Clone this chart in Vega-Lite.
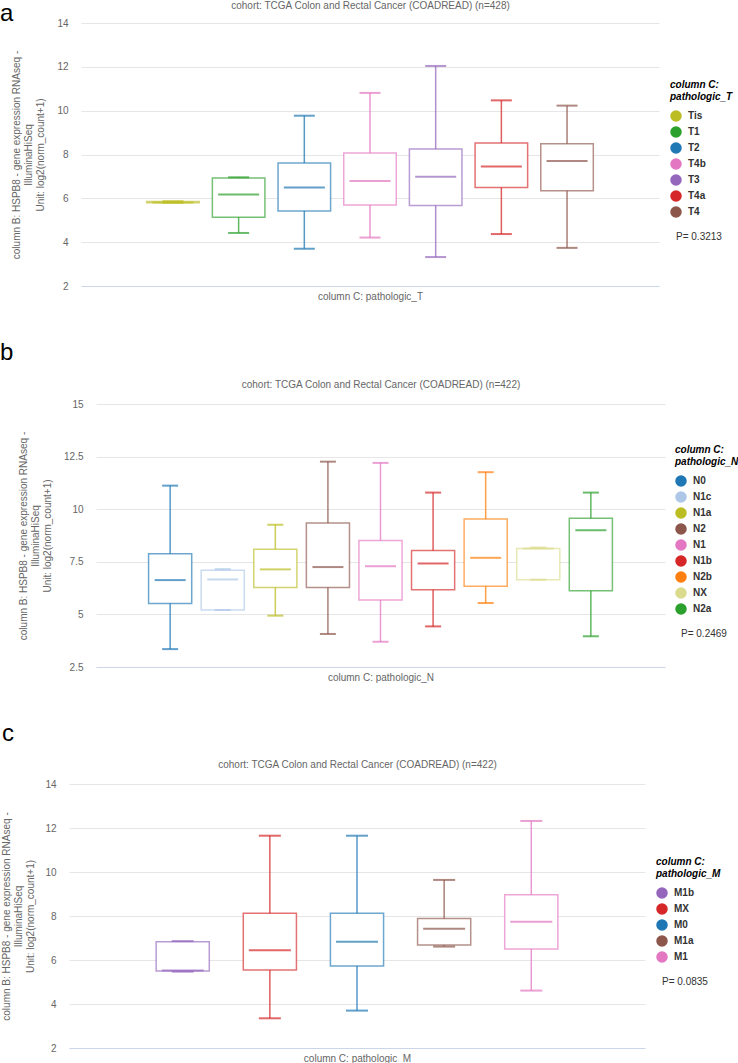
{
  "$schema": "https://vega.github.io/schema/vega-lite/v6.json",
  "padding": {"left": 0, "top": 0, "right": 0, "bottom": 0},
  "spacing": 40,
  "resolve": {
    "scale": {"color": "independent", "stroke": "independent", "shape": "independent", "x": "independent", "y": "independent"},
    "legend": {"color": "independent", "shape": "independent"}
  },
  "vconcat": [
    {
      "title": {"text": "a", "dx": 0, "offset": -26},
      "spacing": 0,
      "resolve": {"scale": {"color": "independent", "stroke": "independent", "shape": "independent"}, "legend": {"color": "independent", "shape": "independent"}},
      "hconcat": [
        {"width": 11, "height": 10, "data": {"values": []}, "mark": "point", "encoding": {}},
        {
          "width": 578,
          "height": 263,
          "data": {"values": [
            {"cat": "Tis", "min": 5.8, "q1": 5.8, "median": 5.81, "q3": 5.85, "max": 5.87},
            {"cat": "T1", "min": 4.42, "q1": 5.14, "median": 6.18, "q3": 6.93, "max": 6.96},
            {"cat": "T2", "min": 3.70, "q1": 5.42, "median": 6.49, "q3": 7.61, "max": 9.77},
            {"cat": "T4b", "min": 4.21, "q1": 5.70, "median": 6.79, "q3": 8.07, "max": 10.81},
            {"cat": "T3", "min": 3.32, "q1": 5.67, "median": 6.99, "q3": 8.25, "max": 12.04},
            {"cat": "T4a", "min": 4.37, "q1": 6.50, "median": 7.45, "q3": 8.53, "max": 10.47},
            {"cat": "T4", "min": 3.74, "q1": 6.35, "median": 7.70, "q3": 8.49, "max": 10.23}
          ]},
          "resolve": {"axis": {"x": "independent"}},
          "layer": [
            {
              "mark": {"type": "rule", "strokeWidth": 1.5, "strokeOpacity": 0.75},
              "encoding": {
                "x": {"field": "cat", "type": "nominal", "scale": {"domain": ["Tis", "T1", "T2", "T4b", "T3", "T4a", "T4"], "paddingInner": 0.2, "paddingOuter": 2.38},
                  "axis": {"orient": "bottom", "title": "column C: pathologic_T", "labels": false, "ticks": false, "domain": true, "domainColor": "#ccd6eb", "titlePadding": 5}},
                "y": {"field": "min", "type": "quantitative", "scale": {"domain": [2, 14], "nice": false, "zero": false},
                  "axis": {"values": [2, 4, 6, 8, 10, 12, 14], "title": ["column B: HSPB8 - gene expression RNAseq -", "IlluminaHiSeq", "Unit: log2(norm_count+1)"]}},
                "y2": {"field": "max"},
                "color": {"field": "cat", "type": "nominal", "scale": {"domain": ["Tis", "T1", "T2", "T4b", "T3", "T4a", "T4"], "range": ["#bcbd22", "#2ca02c", "#1f77b4", "#e377c2", "#9467bd", "#d62728", "#8c564b"]},
                  "legend": {"title": [" ", "column C:", "pathologic_T"]}}
              }
            },
            {
              "mark": {"type": "bar", "fill": "white", "strokeWidth": 1.5, "strokeOpacity": 0.65},
              "encoding": {
                "x": {"field": "cat", "type": "nominal", "scale": {"domain": ["Tis", "T1", "T2", "T4b", "T3", "T4a", "T4"], "paddingInner": 0.2, "paddingOuter": 2.38},
                  "axis": {"orient": "top", "title": "cohort: TCGA Colon and Rectal Cancer (COADREAD) (n=428)", "labels": false, "ticks": false, "domain": false, "titlePadding": 13}},
                "y": {"field": "q1", "type": "quantitative", "scale": {"domain": [2, 14], "nice": false, "zero": false}},
                "y2": {"field": "q3"},
                "stroke": {"field": "cat", "type": "nominal", "scale": {"domain": ["Tis", "T1", "T2", "T4b", "T3", "T4a", "T4"], "range": ["#bcbd22", "#2ca02c", "#1f77b4", "#e377c2", "#9467bd", "#d62728", "#8c564b"]}, "legend": null}
              }
            },
            {
              "mark": {"type": "tick", "thickness": 2, "size": 21},
              "encoding": {
                "x": {"field": "cat", "type": "nominal", "scale": {"domain": ["Tis", "T1", "T2", "T4b", "T3", "T4a", "T4"], "paddingInner": 0.2, "paddingOuter": 2.38}, "axis": null},
                "y": {"field": "min", "type": "quantitative", "scale": {"domain": [2, 14], "nice": false, "zero": false}},
                "color": {"field": "cat", "type": "nominal", "scale": {"domain": ["Tis", "T1", "T2", "T4b", "T3", "T4a", "T4"], "range": ["#bcbd22", "#2ca02c", "#1f77b4", "#e377c2", "#9467bd", "#d62728", "#8c564b"]},
                  "legend": {"title": [" ", "column C:", "pathologic_T"]}}
              }
            },
            {
              "mark": {"type": "tick", "thickness": 2, "size": 21},
              "encoding": {
                "x": {"field": "cat", "type": "nominal", "scale": {"domain": ["Tis", "T1", "T2", "T4b", "T3", "T4a", "T4"], "paddingInner": 0.2, "paddingOuter": 2.38}, "axis": null},
                "y": {"field": "max", "type": "quantitative", "scale": {"domain": [2, 14], "nice": false, "zero": false}},
                "color": {"field": "cat", "type": "nominal", "scale": {"domain": ["Tis", "T1", "T2", "T4b", "T3", "T4a", "T4"], "range": ["#bcbd22", "#2ca02c", "#1f77b4", "#e377c2", "#9467bd", "#d62728", "#8c564b"]},
                  "legend": {"title": [" ", "column C:", "pathologic_T"]}}
              }
            },
            {
              "mark": {"type": "tick", "thickness": 2, "size": 41},
              "encoding": {
                "x": {"field": "cat", "type": "nominal", "scale": {"domain": ["Tis", "T1", "T2", "T4b", "T3", "T4a", "T4"], "paddingInner": 0.2, "paddingOuter": 2.38}, "axis": null},
                "y": {"field": "median", "type": "quantitative", "scale": {"domain": [2, 14], "nice": false, "zero": false}},
                "color": {"field": "cat", "type": "nominal", "scale": {"domain": ["Tis", "T1", "T2", "T4b", "T3", "T4a", "T4"], "range": ["#bcbd22", "#2ca02c", "#1f77b4", "#e377c2", "#9467bd", "#d62728", "#8c564b"]},
                  "legend": {"title": [" ", "column C:", "pathologic_T"]}}
              }
            },
            {
              "data": {"values": [{"p": "P= 0.3213"}]},
              "mark": {"type": "point", "opacity": 0},
              "encoding": {
                "shape": {"field": "p", "type": "nominal", "legend": {"title": null, "symbolSize": 0, "symbolStrokeWidth": 0, "labelFontWeight": "normal", "labelOffset": -4}}
              }
            }
          ]
        }
      ]
    },
    {
      "title": {"text": "b", "dx": 0, "offset": 14},
      "spacing": 0,
      "resolve": {"scale": {"color": "independent", "stroke": "independent", "shape": "independent"}, "legend": {"color": "independent", "shape": "independent"}},
      "hconcat": [
        {"width": 18, "height": 10, "data": {"values": []}, "mark": "point", "encoding": {}},
        {
          "width": 569,
          "height": 263,
          "data": {"values": [
            {"cat": "N0", "min": 3.35, "q1": 5.52, "median": 6.63, "q3": 7.88, "max": 11.12},
            {"cat": "N1c", "min": 5.21, "q1": 5.21, "median": 6.66, "q3": 7.10, "max": 7.15},
            {"cat": "N1a", "min": 4.94, "q1": 6.28, "median": 7.14, "q3": 8.10, "max": 9.26},
            {"cat": "N2", "min": 4.07, "q1": 6.28, "median": 7.25, "q3": 9.35, "max": 12.26},
            {"cat": "N1", "min": 3.70, "q1": 5.68, "median": 7.29, "q3": 8.51, "max": 12.20},
            {"cat": "N1b", "min": 4.43, "q1": 6.17, "median": 7.42, "q3": 8.04, "max": 10.79},
            {"cat": "N2b", "min": 5.54, "q1": 6.34, "median": 7.69, "q3": 9.54, "max": 11.76},
            {"cat": "NX", "min": 6.65, "q1": 6.65, "median": 8.13, "q3": 8.13, "max": 8.18},
            {"cat": "N2a", "min": 3.96, "q1": 6.12, "median": 9.00, "q3": 9.57, "max": 10.79}
          ]},
          "resolve": {"axis": {"x": "independent"}},
          "layer": [
            {
              "mark": {"type": "rule", "strokeWidth": 1.5, "strokeOpacity": 0.75},
              "encoding": {
                "x": {"field": "cat", "type": "nominal", "scale": {"domain": ["N0", "N1c", "N1a", "N2", "N1", "N1b", "N2b", "NX", "N2a"], "paddingInner": 0.18, "paddingOuter": 3.12},
                  "axis": {"orient": "bottom", "title": "column C: pathologic_N", "labels": false, "ticks": false, "domain": true, "domainColor": "#ccd6eb", "titlePadding": 5}},
                "y": {"field": "min", "type": "quantitative", "scale": {"domain": [2.5, 15], "nice": false, "zero": false},
                  "axis": {"values": [2.5, 5, 7.5, 10, 12.5, 15], "labelExpr": "datum.value + ''", "title": ["column B: HSPB8 - gene expression RNAseq -", "IlluminaHiSeq", "Unit: log2(norm_count+1)"]}},
                "y2": {"field": "max"},
                "color": {"field": "cat", "type": "nominal", "scale": {"domain": ["N0", "N1c", "N1a", "N2", "N1", "N1b", "N2b", "NX", "N2a"], "range": ["#1f77b4", "#aec7e8", "#bcbd22", "#8c564b", "#e377c2", "#d62728", "#ff7f0e", "#dbdb8d", "#2ca02c"]},
                  "legend": {"title": [" ", "column C:", "pathologic_N"], "offset": 10}}
              }
            },
            {
              "mark": {"type": "bar", "fill": "white", "strokeWidth": 1.5, "strokeOpacity": 0.65},
              "encoding": {
                "x": {"field": "cat", "type": "nominal", "scale": {"domain": ["N0", "N1c", "N1a", "N2", "N1", "N1b", "N2b", "NX", "N2a"], "paddingInner": 0.18, "paddingOuter": 3.12},
                  "axis": {"orient": "top", "title": "cohort: TCGA Colon and Rectal Cancer (COADREAD) (n=422)", "labels": false, "ticks": false, "domain": false, "titlePadding": 15}},
                "y": {"field": "q1", "type": "quantitative", "scale": {"domain": [2.5, 15], "nice": false, "zero": false}},
                "y2": {"field": "q3"},
                "stroke": {"field": "cat", "type": "nominal", "scale": {"domain": ["N0", "N1c", "N1a", "N2", "N1", "N1b", "N2b", "NX", "N2a"], "range": ["#1f77b4", "#aec7e8", "#bcbd22", "#8c564b", "#e377c2", "#d62728", "#ff7f0e", "#dbdb8d", "#2ca02c"]}, "legend": null}
              }
            },
            {
              "mark": {"type": "tick", "thickness": 2, "size": 16},
              "encoding": {
                "x": {"field": "cat", "type": "nominal", "scale": {"domain": ["N0", "N1c", "N1a", "N2", "N1", "N1b", "N2b", "NX", "N2a"], "paddingInner": 0.18, "paddingOuter": 3.12}, "axis": null},
                "y": {"field": "min", "type": "quantitative", "scale": {"domain": [2.5, 15], "nice": false, "zero": false}},
                "color": {"field": "cat", "type": "nominal", "scale": {"domain": ["N0", "N1c", "N1a", "N2", "N1", "N1b", "N2b", "NX", "N2a"], "range": ["#1f77b4", "#aec7e8", "#bcbd22", "#8c564b", "#e377c2", "#d62728", "#ff7f0e", "#dbdb8d", "#2ca02c"]},
                  "legend": {"title": [" ", "column C:", "pathologic_N"], "offset": 10}}
              }
            },
            {
              "mark": {"type": "tick", "thickness": 2, "size": 16},
              "encoding": {
                "x": {"field": "cat", "type": "nominal", "scale": {"domain": ["N0", "N1c", "N1a", "N2", "N1", "N1b", "N2b", "NX", "N2a"], "paddingInner": 0.18, "paddingOuter": 3.12}, "axis": null},
                "y": {"field": "max", "type": "quantitative", "scale": {"domain": [2.5, 15], "nice": false, "zero": false}},
                "color": {"field": "cat", "type": "nominal", "scale": {"domain": ["N0", "N1c", "N1a", "N2", "N1", "N1b", "N2b", "NX", "N2a"], "range": ["#1f77b4", "#aec7e8", "#bcbd22", "#8c564b", "#e377c2", "#d62728", "#ff7f0e", "#dbdb8d", "#2ca02c"]},
                  "legend": {"title": [" ", "column C:", "pathologic_N"], "offset": 10}}
              }
            },
            {
              "mark": {"type": "tick", "thickness": 2, "size": 31},
              "encoding": {
                "x": {"field": "cat", "type": "nominal", "scale": {"domain": ["N0", "N1c", "N1a", "N2", "N1", "N1b", "N2b", "NX", "N2a"], "paddingInner": 0.18, "paddingOuter": 3.12}, "axis": null},
                "y": {"field": "median", "type": "quantitative", "scale": {"domain": [2.5, 15], "nice": false, "zero": false}},
                "color": {"field": "cat", "type": "nominal", "scale": {"domain": ["N0", "N1c", "N1a", "N2", "N1", "N1b", "N2b", "NX", "N2a"], "range": ["#1f77b4", "#aec7e8", "#bcbd22", "#8c564b", "#e377c2", "#d62728", "#ff7f0e", "#dbdb8d", "#2ca02c"]},
                  "legend": {"title": [" ", "column C:", "pathologic_N"], "offset": 10}}
              }
            },
            {
              "data": {"values": [{"p": "P= 0.2469"}]},
              "mark": {"type": "point", "opacity": 0},
              "encoding": {
                "shape": {"field": "p", "type": "nominal", "legend": {"title": null, "offset": 10, "symbolSize": 0, "symbolStrokeWidth": 0, "labelFontWeight": "normal", "labelOffset": -4}}
              }
            }
          ]
        }
      ]
    },
    {
      "title": {"text": "c", "dx": 2, "offset": 13},
      "spacing": 0,
      "resolve": {"scale": {"color": "independent", "stroke": "independent", "shape": "independent"}, "legend": {"color": "independent", "shape": "independent"}},
      "hconcat": [
        {"width": 1, "height": 10, "data": {"values": []}, "mark": "point", "encoding": {}},
        {
          "width": 576,
          "height": 264,
          "data": {"values": [
            {"cat": "M1b", "min": 5.47, "q1": 5.50, "median": 5.52, "q3": 6.83, "max": 6.86},
            {"cat": "MX", "min": 3.35, "q1": 5.55, "median": 6.44, "q3": 8.12, "max": 11.65},
            {"cat": "M0", "min": 3.70, "q1": 5.73, "median": 6.83, "q3": 8.12, "max": 11.65},
            {"cat": "M1a", "min": 6.61, "q1": 6.68, "median": 7.42, "q3": 7.89, "max": 9.64},
            {"cat": "M1", "min": 4.61, "q1": 6.50, "median": 7.74, "q3": 8.97, "max": 12.32}
          ]},
          "resolve": {"axis": {"x": "independent"}},
          "layer": [
            {
              "mark": {"type": "rule", "strokeWidth": 1.5, "strokeOpacity": 0.75},
              "encoding": {
                "x": {"field": "cat", "type": "nominal", "scale": {"domain": ["M1b", "MX", "M0", "M1a", "M1"], "paddingInner": 0.39, "paddingOuter": 1.85},
                  "axis": {"orient": "bottom", "title": "column C: pathologic_M", "labels": false, "ticks": false, "domain": true, "domainColor": "#ccd6eb", "titlePadding": 5}},
                "y": {"field": "min", "type": "quantitative", "scale": {"domain": [2, 14], "nice": false, "zero": false},
                  "axis": {"values": [2, 4, 6, 8, 10, 12, 14], "titlePadding": 9, "title": ["column B: HSPB8 - gene expression RNAseq -", "IlluminaHiSeq", "Unit: log2(norm_count+1)"]}},
                "y2": {"field": "max"},
                "color": {"field": "cat", "type": "nominal", "scale": {"domain": ["M1b", "MX", "M0", "M1a", "M1"], "range": ["#9467bd", "#d62728", "#1f77b4", "#8c564b", "#e377c2"]},
                  "legend": {"title": [" ", "column C:", "pathologic_M"]}}
              }
            },
            {
              "mark": {"type": "bar", "fill": "white", "strokeWidth": 1.5, "strokeOpacity": 0.65},
              "encoding": {
                "x": {"field": "cat", "type": "nominal", "scale": {"domain": ["M1b", "MX", "M0", "M1a", "M1"], "paddingInner": 0.39, "paddingOuter": 1.85},
                  "axis": {"orient": "top", "title": "cohort: TCGA Colon and Rectal Cancer (COADREAD) (n=422)", "labels": false, "ticks": false, "domain": false, "titlePadding": 15}},
                "y": {"field": "q1", "type": "quantitative", "scale": {"domain": [2, 14], "nice": false, "zero": false}},
                "y2": {"field": "q3"},
                "stroke": {"field": "cat", "type": "nominal", "scale": {"domain": ["M1b", "MX", "M0", "M1a", "M1"], "range": ["#9467bd", "#d62728", "#1f77b4", "#8c564b", "#e377c2"]}, "legend": null}
              }
            },
            {
              "mark": {"type": "tick", "thickness": 2, "size": 22},
              "encoding": {
                "x": {"field": "cat", "type": "nominal", "scale": {"domain": ["M1b", "MX", "M0", "M1a", "M1"], "paddingInner": 0.39, "paddingOuter": 1.85}, "axis": null},
                "y": {"field": "min", "type": "quantitative", "scale": {"domain": [2, 14], "nice": false, "zero": false}},
                "color": {"field": "cat", "type": "nominal", "scale": {"domain": ["M1b", "MX", "M0", "M1a", "M1"], "range": ["#9467bd", "#d62728", "#1f77b4", "#8c564b", "#e377c2"]},
                  "legend": {"title": [" ", "column C:", "pathologic_M"]}}
              }
            },
            {
              "mark": {"type": "tick", "thickness": 2, "size": 22},
              "encoding": {
                "x": {"field": "cat", "type": "nominal", "scale": {"domain": ["M1b", "MX", "M0", "M1a", "M1"], "paddingInner": 0.39, "paddingOuter": 1.85}, "axis": null},
                "y": {"field": "max", "type": "quantitative", "scale": {"domain": [2, 14], "nice": false, "zero": false}},
                "color": {"field": "cat", "type": "nominal", "scale": {"domain": ["M1b", "MX", "M0", "M1a", "M1"], "range": ["#9467bd", "#d62728", "#1f77b4", "#8c564b", "#e377c2"]},
                  "legend": {"title": [" ", "column C:", "pathologic_M"]}}
              }
            },
            {
              "mark": {"type": "tick", "thickness": 2, "size": 42},
              "encoding": {
                "x": {"field": "cat", "type": "nominal", "scale": {"domain": ["M1b", "MX", "M0", "M1a", "M1"], "paddingInner": 0.39, "paddingOuter": 1.85}, "axis": null},
                "y": {"field": "median", "type": "quantitative", "scale": {"domain": [2, 14], "nice": false, "zero": false}},
                "color": {"field": "cat", "type": "nominal", "scale": {"domain": ["M1b", "MX", "M0", "M1a", "M1"], "range": ["#9467bd", "#d62728", "#1f77b4", "#8c564b", "#e377c2"]},
                  "legend": {"title": [" ", "column C:", "pathologic_M"]}}
              }
            },
            {
              "data": {"values": [{"p": "P= 0.0835"}]},
              "mark": {"type": "point", "opacity": 0},
              "encoding": {
                "shape": {"field": "p", "type": "nominal", "legend": {"title": null, "symbolSize": 0, "symbolStrokeWidth": 0, "labelFontWeight": "normal", "labelOffset": -4}}
              }
            }
          ]
        }
      ]
    }
  ],
  "config": {
    "font": "Liberation Sans",
    "view": {"stroke": null},
    "title": {"anchor": "start", "frame": "bounds", "fontSize": 24, "fontWeight": "normal", "color": "#000000", "font": "Liberation Sans"},
    "axis": {"labelFont": "Liberation Sans", "labelFontSize": 10, "labelColor": "#666666", "titleFont": "Liberation Sans", "titleFontSize": 10, "titleFontWeight": "normal", "titleColor": "#666666", "ticks": false, "domain": false, "gridColor": "#e6e6e6"},
    "axisY": {"titleLineHeight": 12, "grid": true, "labelPadding": 13, "titlePadding": 11},
    "axisX": {"grid": false},
    "legend": {
      "orient": "right", "offset": 11,
      "titleFont": "Liberation Sans", "titleFontSize": 10, "titleFontWeight": "bold", "titleFontStyle": "italic", "titleColor": "#000000", "titleLineHeight": 12, "titlePadding": 8,
      "labelFont": "Liberation Sans", "labelFontSize": 10, "labelFontWeight": "bold", "labelColor": "#333333",
      "symbolSize": 100, "symbolType": "circle", "symbolOpacity": 1, "rowPadding": 0, "labelOffset": 6,
      "layout": {"right": {"anchor": "middle", "direction": "vertical", "margin": 12}}
    }
  }
}
